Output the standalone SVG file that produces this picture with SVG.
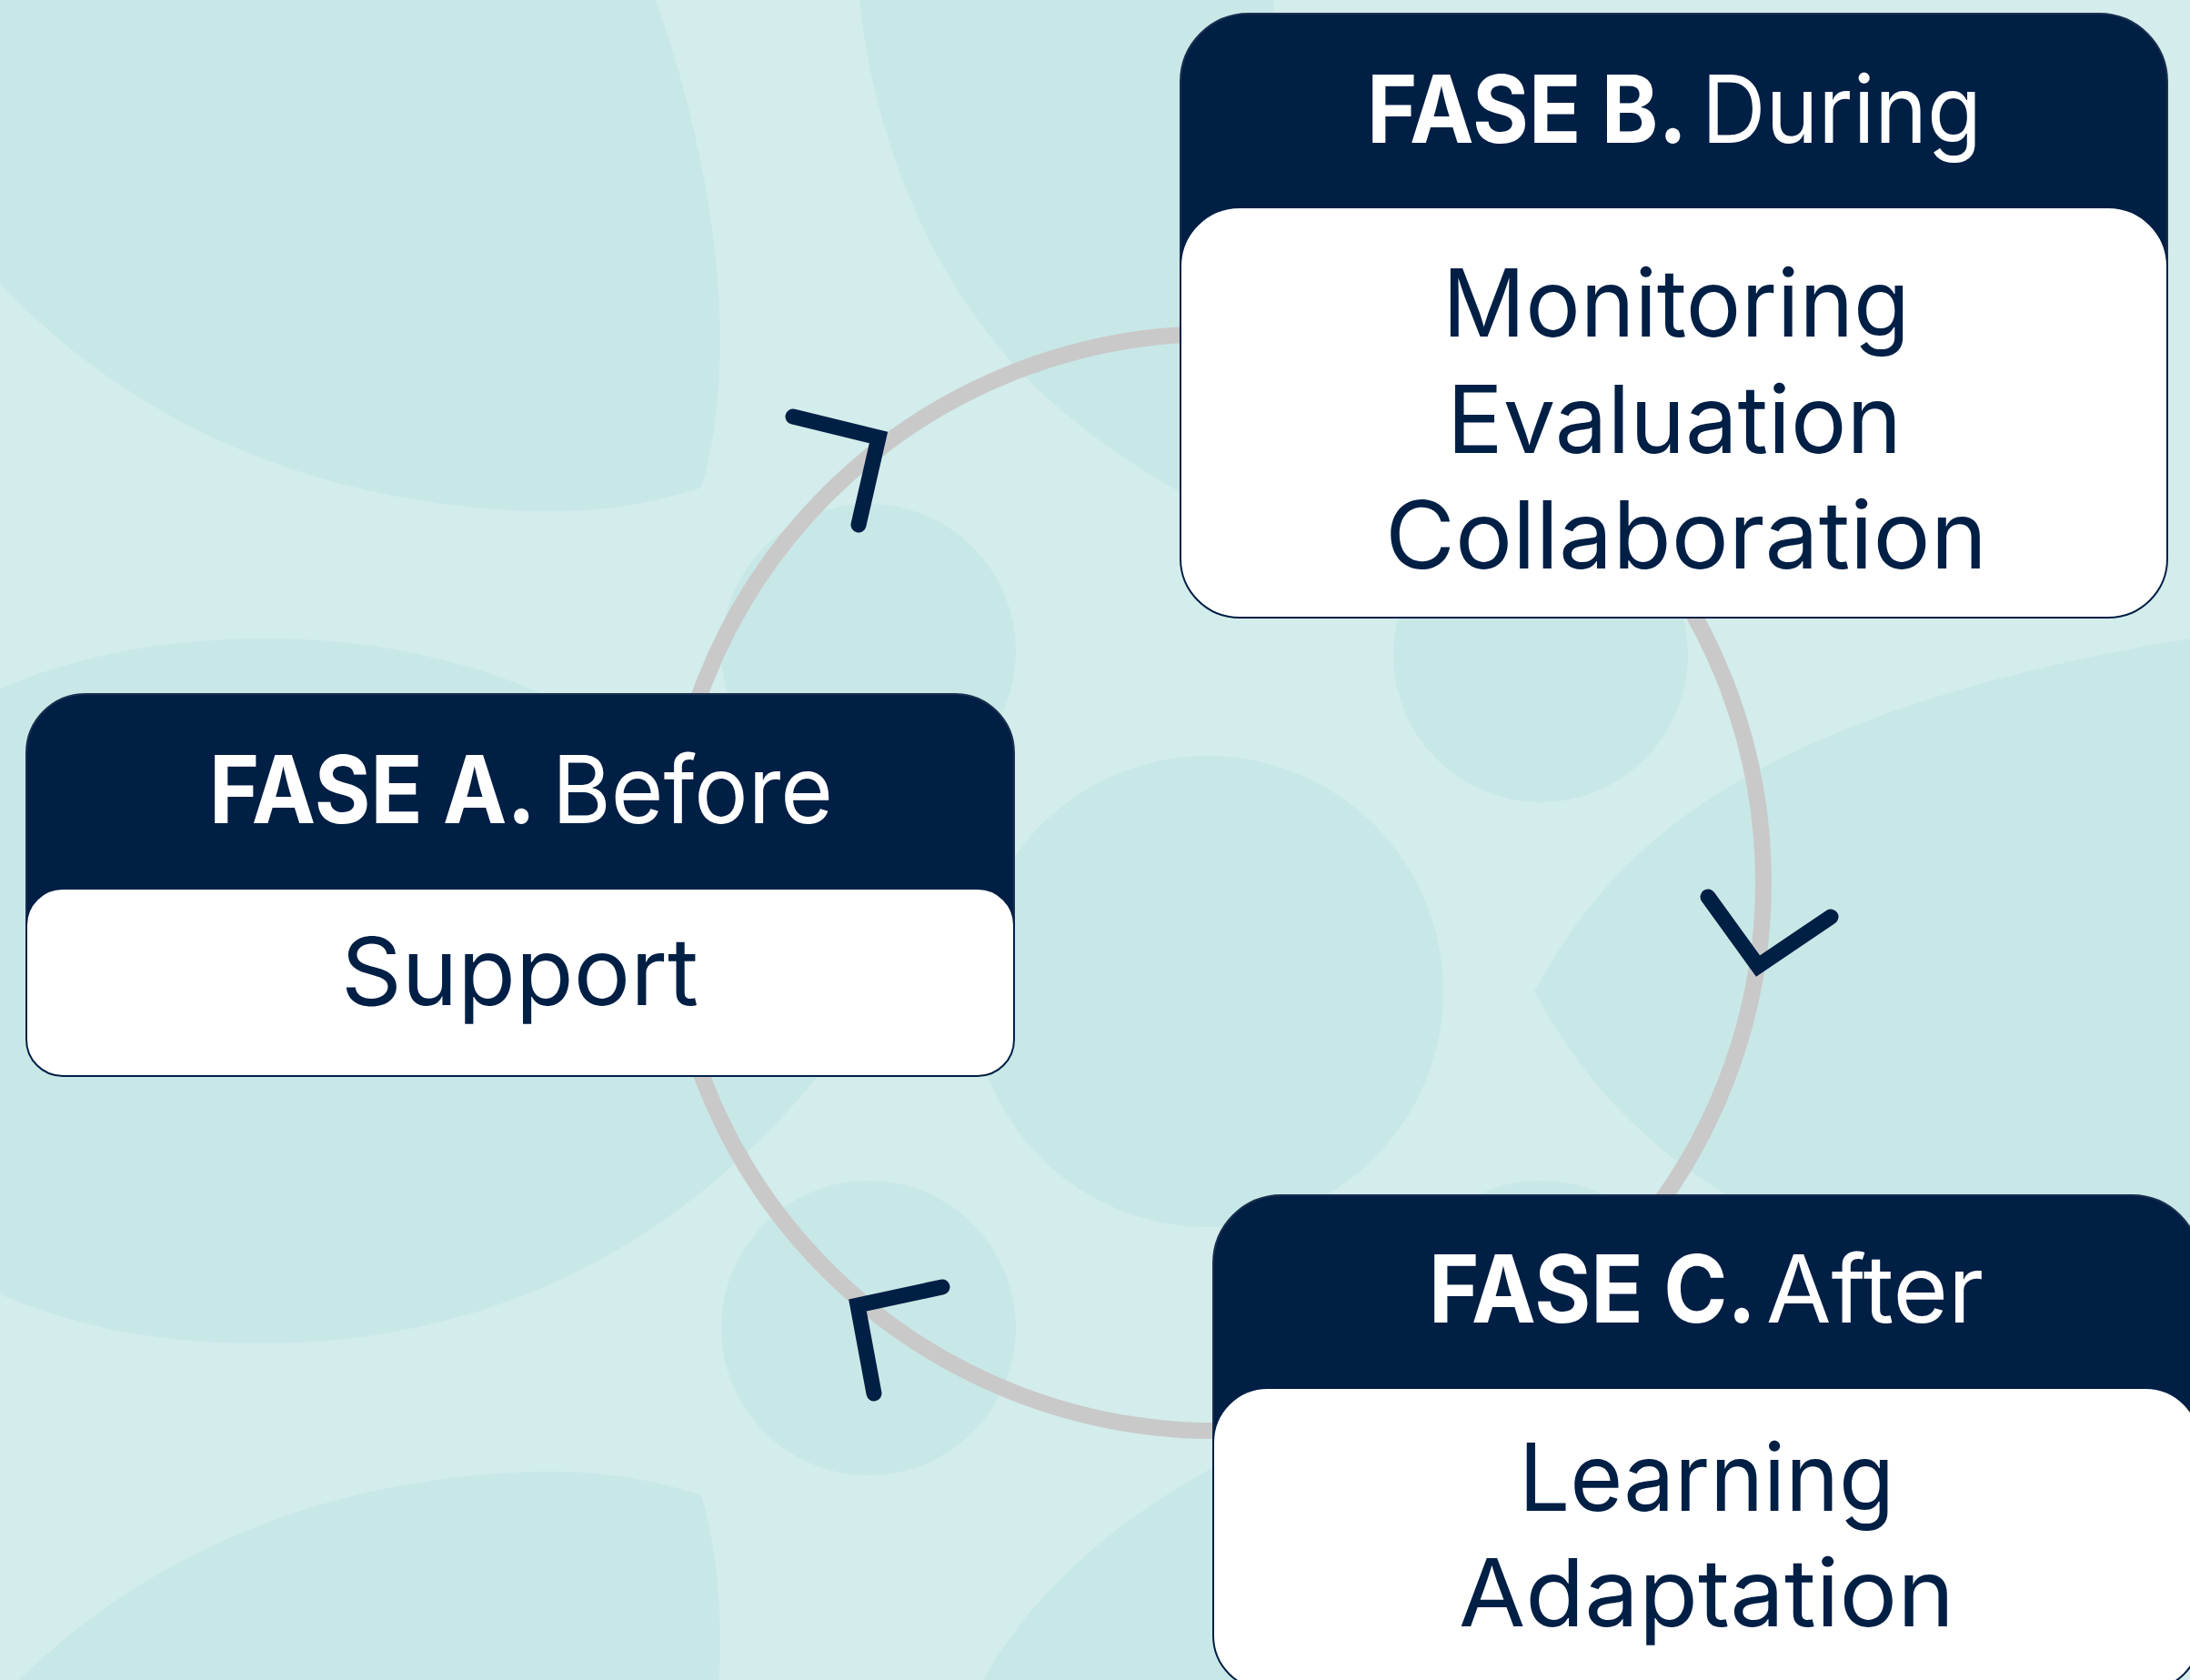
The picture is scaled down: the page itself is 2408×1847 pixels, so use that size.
<svg xmlns="http://www.w3.org/2000/svg" width="2408" height="1847" viewBox="0 0 2408 1847">
<style>
.bg{fill:#d3ecec}
.blob{fill:#c8e8e7}
.hdr{fill:#001f45;stroke:#1a2f4f;stroke-width:2}
.body{fill:#ffffff;stroke:#001f45;stroke-width:2}
.ht{font-family:Inter,"Liberation Sans",sans-serif;font-size:103px;fill:#ffffff}
.b{font-weight:700}
.r{font-weight:400}
.bt{font-family:Inter,"Liberation Sans",sans-serif;font-size:103px;fill:#001f45;font-weight:400}
.ring{fill:none;stroke:#c9c9c9;stroke-width:18}
.chev{fill:none;stroke:#001f45;stroke-width:17;stroke-linecap:round;stroke-linejoin:miter}
</style>
<g id="background">
<rect class="bg" x="0" y="0" width="2408" height="1847"/>
<path class="blob" d="M0 0 L721 0 C785 180 815 390 771 536 C700 560 630 565 564 561 C350 550 150 470 0 312 Z"/>
<path class="blob" transform="matrix(1 0 0 -1 0 2180)" d="M0 0 L721 0 C785 180 815 390 771 536 C700 560 630 565 564 561 C350 550 150 470 0 312 Z"/>
<path class="blob" d="M967 1090 C800 830 560 700 290 702 C150 703 50 730 -50 780 L-50 1400 C50 1450 150 1478 295 1477 C560 1475 800 1350 967 1090 Z"/>
<path class="blob" d="M1687 1090 C1760 960 1880 790 2408 702 L2408 1478 C1880 1390 1760 1220 1687 1090 Z"/>
<path class="blob" d="M945 0 C965 190 1050 350 1161 446 C1205 484 1250 515 1310 548 L1400 548 L1400 0 Z"/>
<path class="blob" d="M1081 1847 C1130 1760 1210 1680 1340 1610 L1400 1610 L1400 1847 Z"/>
<circle class="blob" cx="1328" cy="1090" r="259"/>
<circle class="blob" cx="955" cy="716" r="162"/>
<circle class="blob" cx="1694" cy="720" r="162"/>
<circle class="blob" cx="955" cy="1460" r="162"/>
<circle class="blob" cx="1694" cy="1460" r="162"/>
</g>
<g id="connectors">
<circle class="ring" cx="1336" cy="970" r="603"/>
<polyline class="chev" points="872,458 966,481 944,577"/>
<polyline class="chev" points="1878,986 1933,1062 2013,1008"/>
<polyline class="chev" points="1036,1415 943,1435 961,1532"/>
</g>
<g id="faseA">
<rect class="hdr" x="29" y="763" width="1086" height="420" rx="65"/>
<rect class="body" x="29" y="977" width="1086" height="206" rx="40"/>
<text class="ht b" x="230" y="905" textLength="359" lengthAdjust="spacingAndGlyphs">FASE A.</text>
<text class="ht r" x="607" y="905" textLength="309" lengthAdjust="spacingAndGlyphs">Before</text>
<text class="bt" x="375" y="1105" textLength="393" lengthAdjust="spacingAndGlyphs">Support</text>
</g>
<g id="faseB">
<rect class="hdr" x="1298" y="15" width="1085" height="664" rx="75"/>
<rect class="body" x="1298" y="228" width="1085" height="451" rx="65"/>
<text class="ht b" x="1503" y="157" textLength="352" lengthAdjust="spacingAndGlyphs">FASE B.</text>
<text class="ht r" x="1871" y="157" textLength="308" lengthAdjust="spacingAndGlyphs">During</text>
<text class="bt" x="1586" y="370" textLength="514" lengthAdjust="spacingAndGlyphs">Monitoring</text>
<text class="bt" x="1591" y="498" textLength="500" lengthAdjust="spacingAndGlyphs">Evaluation</text>
<text class="bt" x="1523" y="625" textLength="662" lengthAdjust="spacingAndGlyphs">Collaboration</text>
</g>
<g id="faseC">
<rect class="hdr" x="1334" y="1314" width="1085" height="544" rx="75"/>
<rect class="body" x="1334" y="1526" width="1085" height="332" rx="60"/>
<text class="ht b" x="1571" y="1454" textLength="360" lengthAdjust="spacingAndGlyphs">FASE C.</text>
<text class="ht r" x="1942" y="1454" textLength="239" lengthAdjust="spacingAndGlyphs">After</text>
<text class="bt" x="1670" y="1661" textLength="413" lengthAdjust="spacingAndGlyphs">Learning</text>
<text class="bt" x="1604" y="1788" textLength="545" lengthAdjust="spacingAndGlyphs">Adaptation</text>
</g>
</svg>
